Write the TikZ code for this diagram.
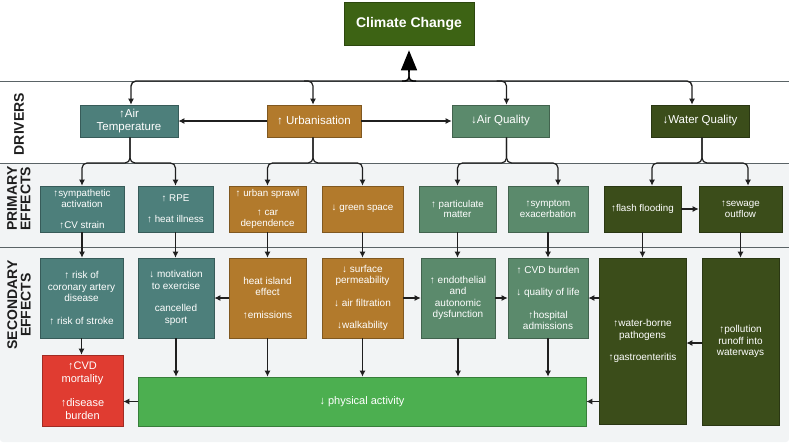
\documentclass[tikz,border=0pt]{standalone}
\usepackage{fontspec}
\setmainfont{Liberation Sans}
\usetikzlibrary{arrows.meta,calc}
\definecolor{tealc}{HTML}{4D7F7B}
\definecolor{ochre}{HTML}{B27A2C}
\definecolor{sage}{HTML}{5B8A6C}
\definecolor{olive}{HTML}{3B4D1A}
\definecolor{ccgreen}{HTML}{3D6314}
\definecolor{cvdred}{HTML}{E03C31}
\definecolor{pagreen}{HTML}{4CAF50}
\definecolor{bandgray}{HTML}{F2F4F5}
\definecolor{bandline}{HTML}{5A6366}
\definecolor{labelcol}{HTML}{1E1E1E}
\begin{document}
\begin{tikzpicture}[x=1pt,y=-1pt,
  box/.style={draw=#1!72!black, fill=#1, text=white, inner sep=0pt, align=center, line width=0.6pt},
  drv/.style={font=\fontsize{11.5}{13}\selectfont, minimum height=32},
  pri/.style={font=\fontsize{9.8}{10.6}\selectfont, minimum height=46},
  sec/.style={font=\fontsize{10}{11.4}\selectfont},
  band/.style={font=\bfseries\fontsize{14}{13.5}\selectfont, text=labelcol, rotate=90},
  conn/.style={line width=1.2pt, draw=black!88, -{Latex[length=6pt,width=6pt]}},
  rc/.style={rounded corners=5pt},
  sep/.style={draw=bandline, line width=0.6pt}
]
\useasboundingbox (0,0) rectangle (789,444);
% backgrounds and band separators
\fill[bandgray, rounded corners=3pt] (0,163) rectangle (789,442);
\draw[sep] (0,81) -- (789,81);
\draw[sep] (0,163) -- (789,163);
\draw[sep] (0,247) -- (789,247);
\coordinate (busL) at (0,81);
\coordinate (split1) at (0,163);
\coordinate (stem) at (0,72);

% band labels
\node[band] (lbldrv) at (19,124) {DRIVERS};
\node[band, align=left] (lblpri) at (19,198.5) {PRIMARY\\EFFECTS};
\node[band, align=center] (lblsec) at (19,305) {SECONDARY\\EFFECTS};

% top
\node[box=ccgreen, minimum width=130, minimum height=43, font=\bfseries\fontsize{14}{16}\selectfont] (climate) at (409,23.5) {Climate Change};

% drivers
\node[box=tealc, drv, minimum width=98] (airtemp) at (129,121) {↑Air\\Temperature};
\node[box=ochre, drv, minimum width=94] (urban) at (314,121) {↑ Urbanisation};
\node[box=sage, drv, minimum width=97] (airq) at (500.5,121) {↓Air Quality};
\node[box=olive, drv, minimum width=98] (waterq) at (700,121) {↓Water Quality};

% primary effects
\node[box=tealc, pri, minimum width=84] (symp) at (82,209) {↑sympathetic\\activation\\[10pt]↑CV strain};
\node[box=tealc, pri, minimum width=75] (rpe) at (175.5,209) {↑ RPE\\[10pt]↑ heat illness};
\node[box=ochre, pri, minimum width=77] (sprawl) at (267.5,209) {↑ urban sprawl\\[8pt]↑ car\\dependence};
\node[box=ochre, pri, minimum width=81] (green) at (362.5,209) {↓ green space};
\node[box=sage, pri, minimum width=77] (partic) at (457.5,209) {↑ particulate\\matter};
\node[box=sage, pri, minimum width=80] (symptom) at (548,209) {↑symptom\\exacerbation};
\node[box=olive, pri, minimum width=77] (flash) at (642.5,209) {↑flash flooding};
\node[box=olive, pri, minimum width=83] (sewage) at (740.5,209) {↑sewage\\outflow};

% secondary effects
\node[box=tealc, sec, minimum width=83, minimum height=80] (coronary) at (81.5,298) {↑ risk of\\coronary artery\\disease\\[11pt]↑ risk of stroke};
\node[box=tealc, sec, minimum width=76, minimum height=80] (motiv) at (176,298) {↓ motivation\\to exercise\\[11pt]cancelled\\sport};
\node[box=ochre, sec, minimum width=77, minimum height=80] (heat) at (267.5,298) {heat island\\effect\\[11pt]↑emissions};
\node[box=ochre, sec, minimum width=81, minimum height=80] (surface) at (362.5,298) {↓ surface\\permeability\\[11pt]↓ air filtration\\[11pt]↓walkability};
\node[box=sage, sec, minimum width=74, minimum height=80] (endoth) at (458,298) {↑ endothelial\\and\\autonomic\\dysfunction};
\node[box=sage, sec, minimum width=80, minimum height=80] (cvdburden) at (548,298) {↑ CVD burden\\[11pt]↓ quality of life\\[11pt]↑hospital\\admissions};
\node[box=olive, sec, minimum width=87, minimum height=166] (waterborne) at (642.5,341) {↑water-borne\\pathogens\\[11pt]↑gastroenteritis};
\node[box=olive, sec, minimum width=77, minimum height=167] (pollution) at (740.5,341.5) {↑pollution\\runoff into\\waterways};
\node[box=cvdred, font=\fontsize{11}{12.5}\selectfont, minimum width=81, minimum height=71] (cvdmort) at (82.5,390.5) {↑CVD\\mortality\\[12pt]↑disease\\burden};
\node[box=pagreen, font=\fontsize{11}{12}\selectfont, minimum width=448, minimum height=49] (physical) at (362,401.5) {↓ physical activity};

% bus and drivers
\draw[conn, {Latex[length=6pt,width=6pt]}-{Latex[length=6pt,width=6pt]}, rc, line width=1.4pt]
  ([xshift=2]airtemp.north) |- ([xshift=-8]waterq.north |- busL) -- ([xshift=-8]waterq.north);
\draw[conn, rc] ([xshift=-10]urban.north |- busL) -| ([xshift=-1]urban.north);
\draw[conn, rc] ([xshift=-4]airq.north |- busL) -| ([xshift=6]airq.north);
\draw[line width=1.4pt, rounded corners=4pt] ([xshift=-7]climate.south |- busL) -| (climate.south |- stem);
\draw[line width=1.4pt, rounded corners=4pt] ([xshift=7]climate.south |- busL) -| (climate.south |- stem);
\draw[line width=1.4pt, -{Triangle[length=20pt,width=16pt]}, shorten >=5pt] (climate.south |- stem) -- (climate.south);
\draw[conn] (urban.west) -- (airtemp.east);
\draw[conn] (urban.east) -- (airq.west);

% drivers -> primary
\draw[conn, rc] ([xshift=1]airtemp.south) |- (symp.north |- split1) -- (symp.north);
\draw[conn, rc] ([xshift=1]airtemp.south) |- (rpe.north |- split1) -- (rpe.north);
\draw[conn, rc] ([xshift=-1]urban.south) |- (sprawl.north |- split1) -- (sprawl.north);
\draw[conn, rc] ([xshift=-1]urban.south) |- (green.north |- split1) -- (green.north);
\coordinate (symin) at ([xshift=10]symptom.north);
\coordinate (flin) at ([xshift=9.5]flash.north);
\coordinate (swin) at ([xshift=7.5]sewage.north);
\draw[conn, rc] ([xshift=6]airq.south) |- (partic.north |- split1) -- (partic.north);
\draw[conn, rc] ([xshift=6]airq.south) |- (symin |- split1) -- (symin);
\draw[conn, rc] ([xshift=2]waterq.south) |- (flin |- split1) -- (flin);
\draw[conn, rc] ([xshift=2]waterq.south) |- (swin |- split1) -- (swin);
\draw[conn] (flash.east) -- (flash.east -| sewage.west);

% primary -> secondary
\draw[conn] (symp.south) -- (symp.south |- coronary.north);
\draw[conn] (rpe.south) -- (rpe.south |- motiv.north);
\draw[conn] (sprawl.south) -- (sprawl.south |- heat.north);
\draw[conn] (green.south) -- (green.south |- surface.north);
\draw[conn] (partic.south) -- (partic.south |- endoth.north);
\draw[conn] (symptom.south) -- (symptom.south |- cvdburden.north);
\draw[conn] (flash.south) -- (flash.south |- waterborne.north);
\draw[conn] (sewage.south) -- (sewage.south |- pollution.north);

% secondary links
\draw[conn] (coronary.south) -- (coronary.south |- cvdmort.north);
\draw[conn] (motiv.south) -- (motiv.south |- physical.north);
\draw[conn] (heat.south) -- (heat.south |- physical.north);
\draw[conn] (surface.south) -- (surface.south |- physical.north);
\draw[conn] (endoth.south) -- (endoth.south |- physical.north);
\draw[conn] (cvdburden.south) -- (cvdburden.south |- physical.north);
\draw[conn] (heat.west) -- (heat.west -| motiv.east);
\draw[conn] (surface.east) -- (surface.east -| endoth.west);
\draw[conn] (endoth.east) -- (endoth.east -| cvdburden.west);
\draw[conn] (waterborne.west |- cvdburden) -- (cvdburden.east);
\draw[conn] (pollution.west |- 0,343) -- (waterborne.east |- 0,343);
\draw[conn] (waterborne.west |- physical) -- (physical.east);
\draw[conn] (physical.west) -- (physical.west -| cvdmort.east);
\end{tikzpicture}
\end{document}
